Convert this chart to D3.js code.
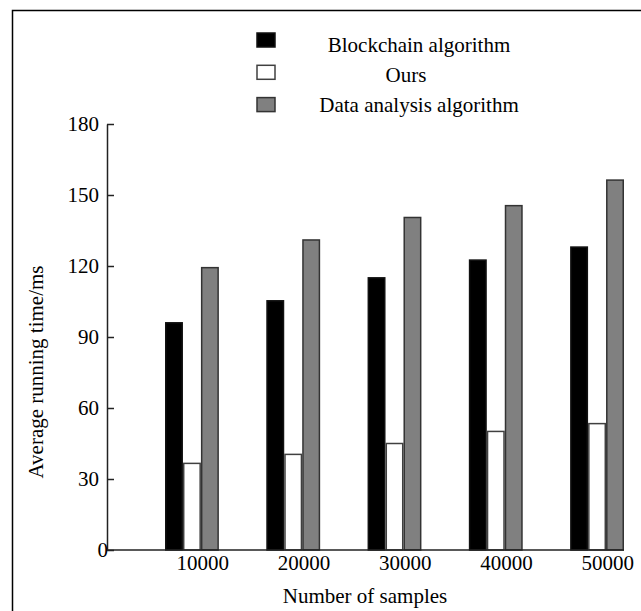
<!DOCTYPE html>
<html>
<head>
  <meta charset="utf-8">
  <title>Average running time</title>
  <script src="https://cdnjs.cloudflare.com/ajax/libs/d3/7.8.5/d3.min.js"></script>
  <style>
    body { margin: 0; background: #fff; }
    text { font-family: "Liberation Serif", "Times New Roman", serif; fill: #000; }
  </style>
</head>
<body>
<div id="chart"></div>
<script>

var categories = ['10000', '20000', '30000', '40000', '50000'];
var seriesNames = ['Blockchain algorithm', 'Ours', 'Data analysis algorithm'];
var blockchain = [96, 105.3, 115, 122.5, 128];
var ours = [36.6, 40.4, 45, 50.1, 53.4];
var dataAnalysis = [119.3, 131, 140.5, 145.5, 156.3];
var yTicks = [0, 30, 60, 90, 120, 150, 180];

var fills = ['#000000', '#ffffff', '#808080'];
var strokes = ['#111111', '#404040', '#333333'];
var legendDx = [0, -13, 0];

var W = 641, H = 611;
var plotLeft = 107, plotBottom = 550, plotTop = 124;

var svg = d3.select('#chart').append('svg')
            .attr('width', W)
            .attr('height', H);

// outer frame (only top and left sides are visible in the picture)
svg.append('path')
   .attr('d', 'M12.5,' + (H + 5) + 'V10.5H' + (W + 5))
   .attr('fill', 'none')
   .attr('stroke', '#000')
   .attr('stroke-width', 1.5);

var x = d3.scaleBand()
          .domain(categories)
          .range([165, 624])
          .paddingInner(0.468)
          .paddingOuter(0);

var xSub = d3.scaleBand()
             .domain(seriesNames)
             .range([0, x.bandwidth()]);

var y = d3.scaleLinear()
          .domain([0, 180])
          .range([plotBottom, plotTop]);

// rows: one per category, values for the three series
var rows = categories.map(function(c, i) {
  return { cat: c, values: [blockchain[i], ours[i], dataAnalysis[i]] };
});

var groups = svg.selectAll('g.group')
                .data(rows)
                .enter()
                .append('g')
                .attr('class', 'group')
                .attr('transform', function(d) { return 'translate(' + x(d.cat) + ',0)'; });

groups.selectAll('rect')
      .data(function(d) {
        return d.values.map(function(v, k) { return { key: seriesNames[k], k: k, v: v }; });
      })
      .enter()
      .append('rect')
      .attr('x', function(d) { return xSub(d.key) + 0.75; })
      .attr('y', function(d) { return y(d.v); })
      .attr('width', xSub.bandwidth() - 1.5)
      .attr('height', function(d) { return plotBottom - y(d.v); })
      .attr('fill', function(d) { return fills[d.k]; })
      .attr('stroke', function(d) { return strokes[d.k]; })
      .attr('stroke-width', 1.5);

// y axis, ticks pointing into the plot
var yAxis = svg.append('g')
               .attr('transform', 'translate(' + plotLeft + ',0)')
               .call(d3.axisLeft(y)
                       .tickValues(yTicks)
                       .tickSizeInner(-7)
                       .tickSizeOuter(0)
                       .tickPadding(8));
yAxis.select('.domain').attr('stroke', '#222').attr('stroke-width', 1.5);
yAxis.selectAll('.tick line').attr('stroke', '#222').attr('stroke-width', 1.5);
yAxis.selectAll('.tick text')
     .style('font-size', '21px')
     .attr('x', function(d) { return d === 0 ? 1 : -8; });
yAxis.attr('font-family', null).attr('font-size', null);

// x axis
svg.append('line')
   .attr('x1', plotLeft)
   .attr('x2', x.range()[1])
   .attr('y1', plotBottom)
   .attr('y2', plotBottom)
   .attr('stroke', '#222')
   .attr('stroke-width', 1.5);

var xAxis = svg.append('g')
               .attr('transform', 'translate(0,' + plotBottom + ')')
               .call(d3.axisBottom(x).tickSize(0).tickPadding(5));
xAxis.select('.domain').remove();
xAxis.selectAll('.tick text')
     .style('font-size', '21px')
     .attr('x', x.bandwidth() * 0.2);
xAxis.attr('font-family', null).attr('font-size', null);

// axis titles
svg.append('text')
   .attr('x', 365)
   .attr('y', 603)
   .attr('text-anchor', 'middle')
   .style('font-size', '21px')
   .text('Number of samples');

svg.append('text')
   .attr('transform', 'translate(43,372) rotate(-90)')
   .attr('text-anchor', 'middle')
   .style('font-size', '21px')
   .text('Average running time/ms');

// legend
var legend = svg.selectAll('g.legend')
                .data(seriesNames)
                .enter()
                .append('g')
                .attr('class', 'legend');

legend.append('rect')
      .attr('x', 257)
      .attr('y', function(d, i) { return 33 + i * 32.3; })
      .attr('width', 18)
      .attr('height', 14)
      .attr('fill', function(d, i) { return fills[i]; })
      .attr('stroke', function(d, i) { return strokes[i]; })
      .attr('stroke-width', 1.5);

legend.append('text')
      .attr('x', function(d, i) { return 419 + legendDx[i]; })
      .attr('y', function(d, i) { return 51.5 + i * 30.3; })
      .attr('text-anchor', 'middle')
      .style('font-size', '21px')
      .text(function(d) { return d; });

</script>
</body>
</html>
